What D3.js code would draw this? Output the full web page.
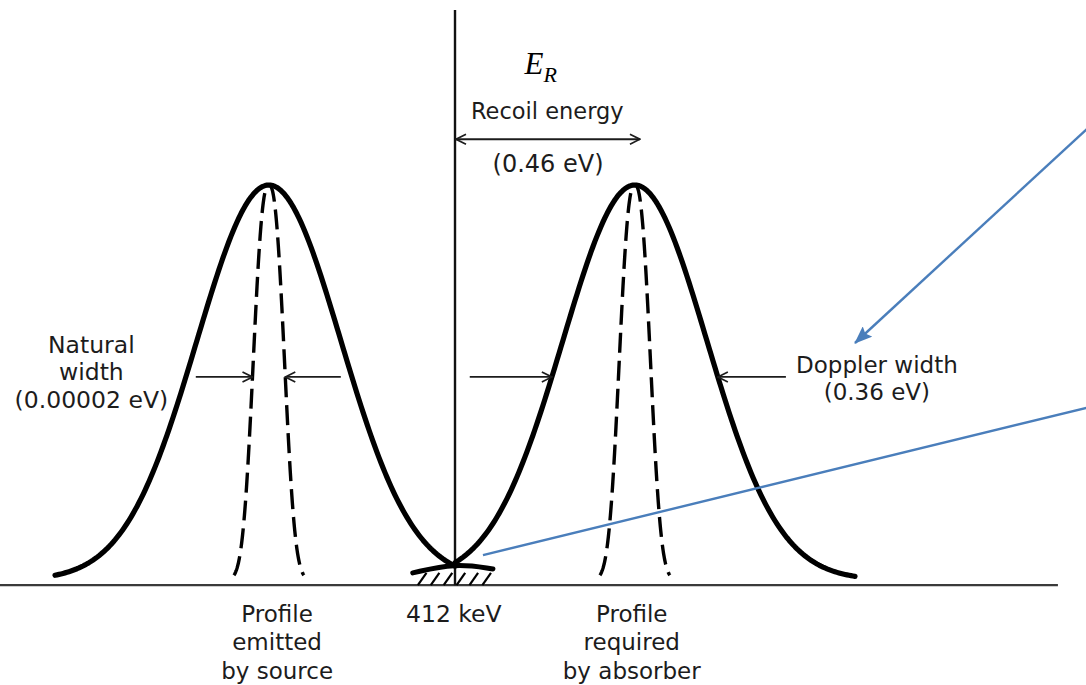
<!DOCTYPE html>
<html>
<head>
<meta charset="utf-8">
<script src="https://cdn.jsdelivr.net/npm/d3@7"></script>
<style>
    body { margin: 0; background: #fff; }
    svg { display: block; }
    text { font-family: "DejaVu Sans", sans-serif; fill: #1c1c1c; }
</style>
</head>
<body>
<svg id="chart" width="1086" height="685"></svg>
<script>
// Energies in eV, measured from the 412 keV line. Intensity is relative (peak = 1).
const profileCenters = [-0.476, 0.46];          // source, absorber
const dopplerWidth = { s: 0.184, p: 2 };        // broad profile shape, as drawn
const naturalWidth = { s: 0.0374, p: 2.5 };     // narrow profile shape, as drawn (exaggerated)
const solidRanges = [[-1.023, 0], [0, 1.023]];  // where each broad profile is drawn
const naturalSpan = 2.39;                       // dashed profiles drawn to +-2.39 s
const recoilEnergy = [0, 0.473];
const axisLevel = -0.013;
const axisRange = [-1.17, 1.542];
const lineTop = 1.443;

// width markers: profile index, which width, side (-1 left / +1 right), tail length (eV)
const widthArrows = [
    { profile: 0, shape: naturalWidth, side: -1, tail: 0.145 },
    { profile: 0, shape: naturalWidth, side: 1, tail: 0.142 },
    { profile: 1, shape: dopplerWidth, side: -1, tail: 0.21 },
    { profile: 1, shape: dopplerWidth, side: 1, tail: 0.174 }
];
const arrowLevel = 0.514;

// hatched support under the line centre
const supportPoints = [[-0.108, 0.018], [0, 0.043], [0.097, 0.028]];
const hatchStarts = [-0.095, -0.062, -0.029, 0.004, 0.037, 0.07];

// blue call-outs
const callouts = [
    { from: [1.624, 1.149], to: [1.023, 0.6], head: true },
    { from: [0.0716, 0.063], to: [1.624, 0.438], head: false }
];

// text labels: lines, anchor point [eV, level], font size, line gap
const labels = [
    { lines: ['Natural', 'width', '(0.00002 eV)'], at: [-0.93, 0.575], size: 23.5, gap: 27.5 },
    { lines: ['Doppler width', '(0.36 eV)'], at: [1.079, 0.525], size: 23, gap: 27 },
    { lines: ['Recoil energy'], at: [0.236, 1.167], size: 22.5, gap: 27 },
    { lines: ['(0.46 eV)'], at: [0.238, 1.033], size: 24, gap: 27 },
    { lines: ['Profile', 'emitted', 'by source'], at: [-0.455, -0.106], size: 23, gap: 28.5 },
    { lines: ['412 keV'], at: [-0.003, -0.106], size: 23.5, gap: 28 },
    { lines: ['Profile', 'required', 'by absorber'], at: [0.452, -0.106], size: 23, gap: 28.5 }
];

const width = 1086, height = 685;
const svg = d3.select('#chart');

const x = d3.scaleLinear().domain([-1.1637, 1.6138]).range([0, width]);
const y = d3.scaleLinear().domain([0, 1]).range([580, 185]);

function profile(e, c, shape) {
    return Math.exp(-0.5 * Math.abs((e - c) / shape.s) ** shape.p);
}
function halfAt(level, shape) {
    return shape.s * Math.pow(2 * Math.log(1 / level), 1 / shape.p);
}

const line = d3.line().x(d => x(d[0])).y(d => y(d[1]));
const smooth = d3.line().x(d => x(d[0])).y(d => y(d[1])).curve(d3.curveBasis);

// markers
const defs = svg.append('defs');
defs.append('marker')
    .attr('id', 'open')
    .attr('viewBox', '0 -6 12 12')
    .attr('refX', 11).attr('refY', 0)
    .attr('markerWidth', 12).attr('markerHeight', 12)
    .attr('markerUnits', 'userSpaceOnUse')
    .attr('orient', 'auto-start-reverse')
    .append('path')
    .attr('d', 'M1,-5L11,0L1,5')
    .attr('fill', 'none')
    .attr('stroke', '#1c1c1c')
    .attr('stroke-width', 1.7);

defs.append('marker')
    .attr('id', 'blue')
    .attr('viewBox', '0 -7 18 14')
    .attr('refX', 17).attr('refY', 0)
    .attr('markerWidth', 18).attr('markerHeight', 14)
    .attr('markerUnits', 'userSpaceOnUse')
    .attr('orient', 'auto')
    .append('path')
    .attr('d', 'M0,-7L18,0L0,7L3,0Z')
    .attr('fill', '#4a7ebb');

// baseline
svg.append('line')
    .attr('x1', x(axisRange[0])).attr('x2', x(axisRange[1]))
    .attr('y1', y(axisLevel)).attr('y2', y(axisLevel))
    .attr('stroke', '#3a3a3a').attr('stroke-width', 2.2);

// vertical line at the transition energy
svg.append('line')
    .attr('x1', x(0)).attr('x2', x(0))
    .attr('y1', y(axisLevel)).attr('y2', y(lineTop))
    .attr('stroke', '#111').attr('stroke-width', 2.4);

// broad (Doppler) profiles
solidRanges.forEach((r, i) => {
    const pts = d3.range(r[0], r[1] + 1e-9, (r[1] - r[0]) / 200)
        .map(e => [e, profile(e, profileCenters[i], dopplerWidth)]);
    svg.append('path')
        .attr('d', line(pts))
        .attr('fill', 'none')
        .attr('stroke', '#000')
        .attr('stroke-width', 5.2)
        .attr('stroke-linecap', 'round')
        .attr('stroke-linejoin', 'round');
});

// narrow (natural) profiles, dashed
profileCenters.forEach(c => {
    const lo = c - naturalSpan * naturalWidth.s, hi = c + naturalSpan * naturalWidth.s;
    const pts = d3.range(lo, hi + 1e-9, (hi - lo) / 200)
        .map(e => [e, profile(e, c, naturalWidth)]);
    svg.append('path')
        .attr('d', line(pts))
        .attr('fill', 'none')
        .attr('stroke', '#000')
        .attr('stroke-width', 3.4)
        .attr('stroke-dasharray', '20,8');
});

// support under the crossing point
svg.append('path')
    .attr('d', smooth(supportPoints))
    .attr('fill', 'none')
    .attr('stroke', '#000')
    .attr('stroke-width', 5)
    .attr('stroke-linecap', 'round');

svg.selectAll('.hatch')
    .data(hatchStarts)
    .enter()
    .append('line')
    .attr('class', 'hatch')
    .attr('x1', d => x(d)).attr('y1', y(axisLevel))
    .attr('x2', d => x(d + 0.022)).attr('y2', y(0.018))
    .attr('stroke', '#000').attr('stroke-width', 2.2);

// width arrows
svg.selectAll('.warrow')
    .data(widthArrows)
    .enter()
    .append('line')
    .attr('class', 'warrow')
    .attr('x1', d => x(profileCenters[d.profile] + d.side * (halfAt(arrowLevel, d.shape) + d.tail)))
    .attr('x2', d => x(profileCenters[d.profile] + d.side * halfAt(arrowLevel, d.shape)))
    .attr('y1', y(arrowLevel)).attr('y2', y(arrowLevel))
    .attr('stroke', '#1c1c1c').attr('stroke-width', 1.7)
    .attr('marker-end', 'url(#open)');

// recoil energy double arrow
svg.append('line')
    .attr('x1', x(recoilEnergy[0]) + 1).attr('x2', x(recoilEnergy[1]))
    .attr('y1', y(1.116)).attr('y2', y(1.116))
    .attr('stroke', '#1c1c1c').attr('stroke-width', 1.9)
    .attr('marker-start', 'url(#open)')
    .attr('marker-end', 'url(#open)');

// E_R symbol
const er = svg.append('text')
    .attr('x', x(0.178)).attr('y', y(1.281))
    .style('font-family', '"Liberation Serif", "DejaVu Serif", serif')
    .style('font-style', 'italic')
    .style('font-size', '31px')
    .style('fill', '#000');
er.append('tspan').text('E');
er.append('tspan').attr('dy', 8).style('font-size', '22px').text('R');

// blue call-outs
svg.selectAll('.callout')
    .data(callouts)
    .enter()
    .append('line')
    .attr('class', 'callout')
    .attr('x1', d => x(d.from[0])).attr('y1', d => y(d.from[1]))
    .attr('x2', d => x(d.to[0])).attr('y2', d => y(d.to[1]))
    .attr('stroke', '#4a7ebb').attr('stroke-width', 2.4)
    .attr('marker-end', d => d.head ? 'url(#blue)' : null);

// labels
labels.forEach(l => {
    const t = svg.append('text')
        .attr('x', x(l.at[0]))
        .attr('y', y(l.at[1]))
        .attr('text-anchor', 'middle')
        .style('font-size', l.size + 'px');
    l.lines.forEach((s, i) => {
        t.append('tspan')
            .attr('x', x(l.at[0]))
            .attr('dy', i === 0 ? 0 : l.gap)
            .text(s);
    });
});
</script>
</body>
</html>
